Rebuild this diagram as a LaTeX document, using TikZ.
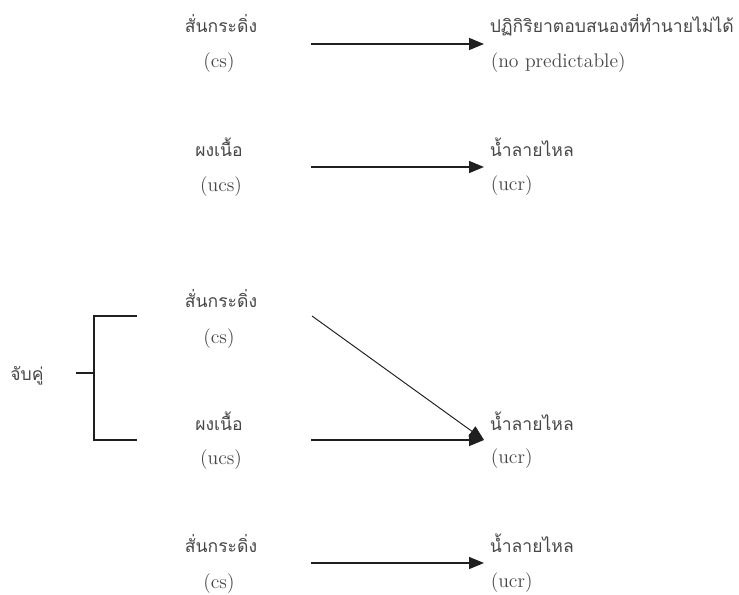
\documentclass[tikz,border=0pt]{standalone}
\usepackage{fontspec}
\newfontfamily\thaifont[Script=Thai]{Loma}
\usetikzlibrary{arrows.meta}
\tikzset{every path/.style={line width=0.85pt}}
\tikzset{th/.style={font=\thaifont\fontsize{10}{12}\selectfont, text=black!72, inner sep=0pt, anchor=base}}
\tikzset{en/.style={font=\fontsize{11.2}{13}\selectfont, text=black!72, inner sep=0pt, anchor=base}}
\tikzset{ar/.style={-{Triangle[length=3mm,width=2.4mm]}}}

\begin{document}
\begin{tikzpicture}[x=0.02cm,y=-0.02cm,color=black!88]
\useasboundingbox (0,0) rectangle (739,594);

% first pair
\node[th] (bell1) at (221,33) {สั่นกระดิ่ง};
\node[en] (cs1) at (219,68) {(cs)};
\node[th,anchor=base west] (resp) at (489,33) {ปฏิกิริยาตอบสนองที่ทำนายไม่ได้};
\node[en,anchor=base west] (nop) at (490,68) {(no predictable)};
\coordinate (a1) at (311,44);
\coordinate (b1) at (484,44);
\draw[ar] (a1) -- (b1);

% second pair
\node[th] (meat1) at (219,157) {ผงเนื้อ};
\node[en] (ucs1) at (221,192) {(ucs)};
\node[th,anchor=base west] (sal1) at (489,157) {น้ำลายไหล};
\node[en,anchor=base west] (ucr1) at (490,191) {(ucr)};
\coordinate (a2) at (311,167);
\coordinate (b2) at (484,167);
\draw[ar] (a2) -- (b2);

% pairing
\node[th] (bell2) at (221,307) {สั่นกระดิ่ง};
\node[en] (cs2) at (219,343) {(cs)};
\node[th] (meat2) at (219,430) {ผงเนื้อ};
\node[en] (ucs2) at (221,464) {(ucs)};
\node[th,anchor=base west] (sal2) at (489,430) {น้ำลายไหล};
\node[en,anchor=base west] (ucr2) at (490,463) {(ucr)};
\node[th] (pair) at (27,380) {จับคู่};
\coordinate (k0) at (76,373);
\coordinate (k1) at (94,373);
\coordinate (kt) at (137,316);
\coordinate (kb) at (137,440);
\draw (k0) -- (k1);
\draw (kt) -| (k1) |- (kb);
\coordinate (a3) at (312,316);
\coordinate (a4) at (311,440);
\coordinate (b3) at (484,440);
\draw[ar,line width=0.55pt] (a3) -- (b3);
\draw[ar] (a4) -- (b3);

% last pair
\node[th] (bell3) at (221,552) {สั่นกระดิ่ง};
\node[en] (cs3) at (219,588) {(cs)};
\node[th,anchor=base west] (sal3) at (489,552) {น้ำลายไหล};
\node[en,anchor=base west] (ucr3) at (490,587) {(ucr)};
\coordinate (a5) at (311,563);
\coordinate (b5) at (484,563);
\draw[ar] (a5) -- (b5);
\end{tikzpicture}
\end{document}
